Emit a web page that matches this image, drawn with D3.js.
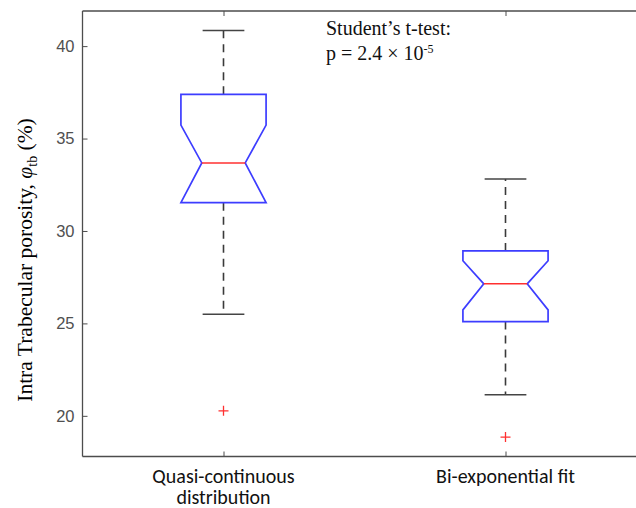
<!DOCTYPE html>
<html><head><meta charset="utf-8">
<script src="https://cdn.jsdelivr.net/npm/d3@7"></script>
<style>body{margin:0;background:#fff}svg{display:block}</style>
</head><body>
<script>
const categories = ["Quasi-continuous distribution", "Bi-exponential fit"];
const whiskerLo = [25.5, 21.14];
const q1 = [31.53, 25.10];
const notchLo = [31.53, 25.73];
const median = [33.68, 27.14];
const notchHi = [35.73, 28.39];
const q3 = [37.39, 28.92];
const whiskerHi = [40.85, 32.81];
const outliers = [[20.27], [18.85]];
const yTicks = [20, 25, 30, 35, 40];

const W = 636, H = 508;
const svg = d3.select("body").append("svg").attr("width", W).attr("height", H);
const x = d3.scaleLinear().domain([0.5, 2.5]).range([82.5, 646.5]);
const y = d3.scaleLinear().domain([17.8, 41.9]).range([456.5, 11]);
const axisCol = "#4d4d4d";

const [x0, x1] = x.range();
svg.append("line").attr("x1", x0).attr("x2", x1).attr("y1", y.range()[0]).attr("y2", y.range()[0]).attr("stroke", axisCol).attr("stroke-width", 1.3);
svg.append("line").attr("x1", x0).attr("x2", x1).attr("y1", y.range()[1]).attr("y2", y.range()[1]).attr("stroke", axisCol).attr("stroke-width", 1.3);
svg.append("line").attr("x1", x0).attr("x2", x0).attr("y1", y.range()[0]).attr("y2", y.range()[1]).attr("stroke", axisCol).attr("stroke-width", 1.3);

const yAxis = d3.axisLeft(y).tickValues(yTicks).tickSize(-5).tickPadding(8).tickFormat(d3.format("d"));
const gy = svg.append("g").attr("transform", `translate(${x0},0)`).call(yAxis);
gy.select(".domain").remove();
gy.selectAll("line").attr("stroke", axisCol);
gy.selectAll("text").attr("fill", "#505050").style("font-family", "Liberation Sans, Arial, sans-serif").style("font-size", "16.5px");

const xIdx = categories.map((c, i) => i + 1);
const xAxisB = d3.axisBottom(x).tickValues(xIdx).tickSize(-5).tickFormat("");
const gxb = svg.append("g").attr("transform", `translate(0,${y.range()[0]})`).call(xAxisB);
gxb.select(".domain").remove();
gxb.selectAll("line").attr("stroke", axisCol);
const xAxisT = d3.axisTop(x).tickValues(xIdx).tickSize(-5).tickFormat("");
const gxt = svg.append("g").attr("transform", `translate(0,${y.range()[1]})`).call(xAxisT);
gxt.select(".domain").remove();
gxt.selectAll("line").attr("stroke", axisCol);

const labelLines = [["Quasi-continuous", "distribution"], ["Bi-exponential fit"]];
categories.forEach((c, i) => {
  const t = svg.append("text").attr("x", x(i + 1)).attr("y", 483).attr("text-anchor", "middle")
    .style("font-family", "Carlito, Calibri, Lato, sans-serif").style("font-size", "20px").attr("fill", "#111");
  labelLines[i].forEach((ln, k) => t.append("tspan").attr("x", x(i + 1)).attr("dy", k === 0 ? 0 : 20.5).text(ln));
});

const boxHalf = 0.151, notchHalf = 0.077, capHalf = 0.074;
const blue = "#3d3dff", red = "#ff3030", dark = "#3a3a3a";
categories.forEach((c, i) => {
  const cx = i + 1;
  const g = svg.append("g");
  g.append("line").attr("x1", x(cx)).attr("x2", x(cx)).attr("y1", y(q3[i])).attr("y2", y(whiskerHi[i]))
    .attr("stroke", dark).attr("stroke-width", 1.6).attr("stroke-dasharray", "8,6");
  g.append("line").attr("x1", x(cx)).attr("x2", x(cx)).attr("y1", y(q1[i])).attr("y2", y(whiskerLo[i]))
    .attr("stroke", dark).attr("stroke-width", 1.6).attr("stroke-dasharray", "8,6");
  [whiskerHi[i], whiskerLo[i]].forEach(v => {
    g.append("line").attr("x1", x(cx - capHalf)).attr("x2", x(cx + capHalf)).attr("y1", y(v)).attr("y2", y(v))
      .attr("stroke", "#444").attr("stroke-width", 1.5);
  });
  const pts = [
    [cx - boxHalf, q1[i]], [cx - boxHalf, notchLo[i]], [cx - notchHalf, median[i]], [cx - boxHalf, notchHi[i]],
    [cx - boxHalf, q3[i]], [cx + boxHalf, q3[i]], [cx + boxHalf, notchHi[i]], [cx + notchHalf, median[i]],
    [cx + boxHalf, notchLo[i]], [cx + boxHalf, q1[i]]
  ];
  g.append("path").attr("d", d3.line().x(d => x(d[0])).y(d => y(d[1]))(pts) + "Z")
    .attr("fill", "none").attr("stroke", blue).attr("stroke-width", 1.7).attr("stroke-linejoin", "miter");
  g.append("line").attr("x1", x(cx - notchHalf)).attr("x2", x(cx + notchHalf)).attr("y1", y(median[i])).attr("y2", y(median[i]))
    .attr("stroke", red).attr("stroke-width", 1.5);
  outliers[i].forEach(v => {
    g.append("path").attr("d", `M${x(cx) - 5},${y(v)}h10M${x(cx)},${y(v) - 5}v10`)
      .attr("stroke", red).attr("stroke-width", 1.3).attr("fill", "none");
  });
});

const yt = svg.append("text").attr("transform", "translate(32,260) rotate(-90)").attr("text-anchor", "middle")
  .style("font-family", "Liberation Serif, Times New Roman, serif").style("font-size", "21.5px").attr("fill", "#000");
yt.append("tspan").text("Intra Trabecular porosity, ");
yt.append("tspan").style("font-style", "italic").text("φ");
yt.append("tspan").attr("dy", 5).style("font-size", "14px").text("tb");
yt.append("tspan").attr("dy", -5).text(" (%)");

const ann = svg.append("g").style("font-family", "Liberation Serif, Times New Roman, serif").style("font-size", "20px").attr("fill", "#111");
ann.append("text").attr("x", 326).attr("y", 35).text("Student’s t-test:");
const t2 = ann.append("text").attr("x", 326).attr("y", 60);
t2.append("tspan").text("p = 2.4 × 10");
t2.append("tspan").attr("dy", -7).style("font-size", "12px").text("-5");
</script>
</body></html>
